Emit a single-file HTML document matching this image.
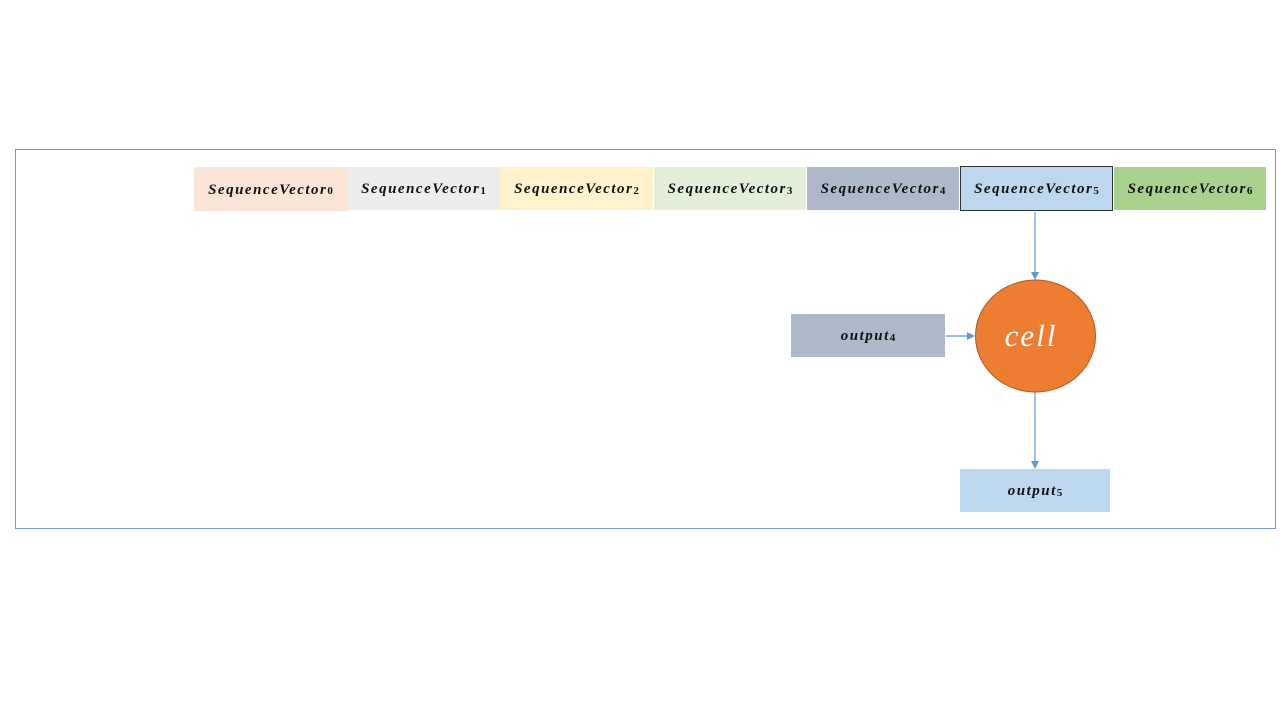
<!DOCTYPE html>
<html><head><meta charset="utf-8"><style>
body{margin:0;width:1280px;height:720px;background:#fff;position:relative;overflow:hidden;font-family:"Liberation Serif",serif}
.b{position:absolute;display:flex;align-items:center;justify-content:center;font-weight:bold;font-style:italic;font-size:15px;color:#111;letter-spacing:1.5px;padding-top:2px;box-sizing:border-box}
.b sub{font-size:11px;font-style:normal;position:relative;top:1px;letter-spacing:0;margin-left:0}
</style></head><body>
<div style="position:absolute;left:15px;top:149px;width:1259px;height:378px;border:1px solid #6e9cc4"></div>
<div class="b" style="left:194px;top:167px;width:153px;height:44px;background:#fbe5d6">SequenceVector<sub>0</sub></div>
<div class="b" style="left:347px;top:167px;width:153px;height:43px;background:#ededed">SequenceVector<sub>1</sub></div>
<div class="b" style="left:500px;top:167px;width:153px;height:43px;background:#fff2cc">SequenceVector<sub>2</sub></div>
<div class="b" style="left:654px;top:167px;width:152px;height:43px;background:#e2f0d9">SequenceVector<sub>3</sub></div>
<div class="b" style="left:807px;top:167px;width:152px;height:43px;background:#adb9ca">SequenceVector<sub>4</sub></div>
<div class="b" style="left:960px;top:166px;width:153px;height:45px;background:#bdd7ee;border:1px solid #333">SequenceVector<sub>5</sub></div>
<div class="b" style="left:1114px;top:167px;width:152px;height:43px;background:#a9d18e">SequenceVector<sub>6</sub></div>
<div class="b" style="left:791px;top:314px;width:154px;height:43px;background:#adb9ca">output<sub>4</sub></div>
<div class="b" style="left:960px;top:469px;width:150px;height:43px;background:#bdd7ee">output<sub>5</sub></div>
<svg width="1280" height="720" style="position:absolute;left:0;top:0">
<defs><marker id="a" markerWidth="8" markerHeight="8" refX="7" refY="4" orient="auto" markerUnits="userSpaceOnUse"><path d="M0,0L8,4L0,8z" fill="#5b9bd5"/></marker></defs>
<line x1="1035" y1="212" x2="1035" y2="279" stroke="#5b9bd5" stroke-width="1.2" marker-end="url(#a)"/>
<line x1="946" y1="336" x2="974" y2="336" stroke="#5b9bd5" stroke-width="1.2" marker-end="url(#a)"/>
<line x1="1035" y1="392" x2="1035" y2="468" stroke="#5b9bd5" stroke-width="1.2" marker-end="url(#a)"/>
<ellipse cx="1035.5" cy="336" rx="60" ry="56" fill="#ed7d31" stroke="#ae5a21" stroke-width="1"/>
<text x="1031" y="346" text-anchor="middle" fill="#fff" font-family="Liberation Serif" font-style="italic" font-size="31" letter-spacing="2">cell</text>
</svg>
</body></html>
